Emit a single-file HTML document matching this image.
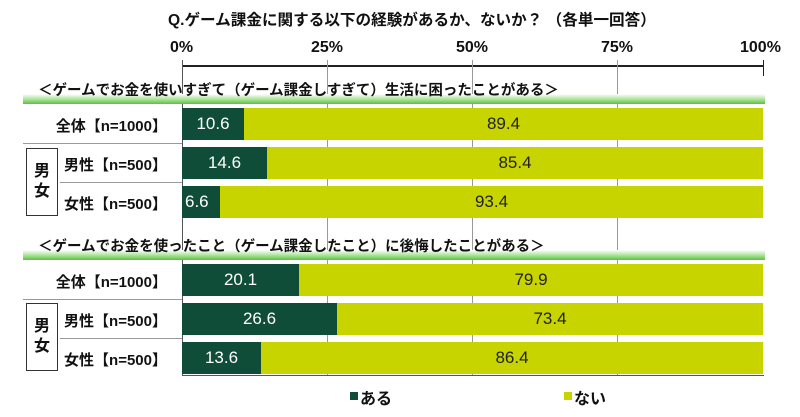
<!DOCTYPE html><html><head><meta charset="utf-8"><style>
body{margin:0;width:800px;height:417px;background:#fff;position:relative;overflow:hidden;font-family:"Liberation Sans","Noto Sans CJK JP",sans-serif;font-weight:bold;color:#111}
.a{position:absolute}
.t{font-size:15px;white-space:nowrap}
.band{position:absolute;left:23px;width:742px;height:10px;background:linear-gradient(#fff,#9fe08a 60%,#5cc040)}
.bar{position:absolute;left:182px;width:581px;height:32px;background:#c8d400}
.bar .d{position:absolute;left:0;top:0;height:100%;background:#0f4d38;color:#fff;font-size:17px;font-weight:normal;line-height:32px;text-align:center}
.bar .n{position:absolute;top:0;height:100%;color:#222;font-size:17px;font-weight:normal;line-height:32px;text-align:center}
.lab{position:absolute;right:633px;font-size:15px;white-space:nowrap}
.box{position:absolute;left:26px;width:30px;border:1.5px solid #333;font-size:16px;text-align:center;line-height:20px;display:flex;flex-direction:column;justify-content:center}
.g{position:absolute;width:1px;background:#999}
.sep{position:absolute;left:60px;width:122px;height:1px;background:#999}
</style></head><body>
<div class="a t" style="left:168px;top:8px;font-size:15.6px">Q.ゲーム課金に関する以下の経験があるか、ないか？ （各単一回答）</div>
<div class="a t" style="left:170px;top:39px;font-size:16px">0%</div>
<div class="a t" style="left:311px;top:39px;font-size:16px">25%</div>
<div class="a t" style="left:456px;top:39px;font-size:16px">50%</div>
<div class="a t" style="left:601px;top:39px;font-size:16px">75%</div>
<div class="a t" style="left:740px;top:39px;font-size:16px">100%</div>
<div class="a" style="left:182px;top:65px;width:582px;height:1.5px;background:#222"></div>
<div class="g" style="left:182px;top:60px;height:316px;background:#555"></div>
<div class="g" style="left:327px;top:60px;height:316px"></div>
<div class="g" style="left:472px;top:60px;height:316px"></div>
<div class="g" style="left:617px;top:60px;height:316px"></div>
<div class="g" style="left:763px;top:60px;height:16px;background:#222"></div>
<div class="a" style="left:182px;top:375px;width:582px;height:1px;background:#555"></div>

<div class="band" style="top:94px"></div>
<div class="a t" style="left:38px;top:79px;font-size:14.5px">＜ゲームでお金を使いすぎて（ゲーム課金しすぎて）生活に困ったことがある＞</div>
<div class="bar" style="top:108px"><div class="d" style="width:62px">10.6</div><div class="n" style="left:62px;right:0">89.4</div></div>
<div class="bar" style="top:147px"><div class="d" style="width:85px">14.6</div><div class="n" style="left:85px;right:0">85.4</div></div>
<div class="bar" style="top:186px"><div class="d" style="width:38px;text-align:left;padding-left:3px;box-sizing:border-box">6.6</div><div class="n" style="left:38px;right:0">93.4</div></div>
<div class="lab" style="top:115px">全体【n=1000】</div>
<div class="lab" style="top:154px">男性【n=500】</div>
<div class="lab" style="top:193px">女性【n=500】</div>
<div class="sep" style="top:143px;left:23px;width:159px"></div>
<div class="sep" style="top:182px"></div>
<div class="box" style="top:148px;height:66px">男<br>女</div>

<div class="band" style="top:250px"></div>
<div class="a t" style="left:38px;top:235px;font-size:14.5px">＜ゲームでお金を使ったこと（ゲーム課金したこと）に後悔したことがある＞</div>
<div class="bar" style="top:264px"><div class="d" style="width:117px">20.1</div><div class="n" style="left:117px;right:0">79.9</div></div>
<div class="bar" style="top:303px"><div class="d" style="width:155px">26.6</div><div class="n" style="left:155px;right:0">73.4</div></div>
<div class="bar" style="top:342px"><div class="d" style="width:79px">13.6</div><div class="n" style="left:79px;right:0">86.4</div></div>
<div class="lab" style="top:271px">全体【n=1000】</div>
<div class="lab" style="top:310px">男性【n=500】</div>
<div class="lab" style="top:349px">女性【n=500】</div>
<div class="sep" style="top:299px;left:23px;width:159px"></div>
<div class="sep" style="top:338px"></div>
<div class="box" style="top:303px;height:66px">男<br>女</div>

<div class="a" style="left:350px;top:392px;width:8px;height:8px;background:#0f4d38"></div>
<div class="a t" style="left:360px;top:385px;font-size:16px">ある</div>
<div class="a" style="left:564px;top:392px;width:8px;height:8px;background:#c8d400"></div>
<div class="a t" style="left:574px;top:385px;font-size:16px">ない</div>
</body></html>
